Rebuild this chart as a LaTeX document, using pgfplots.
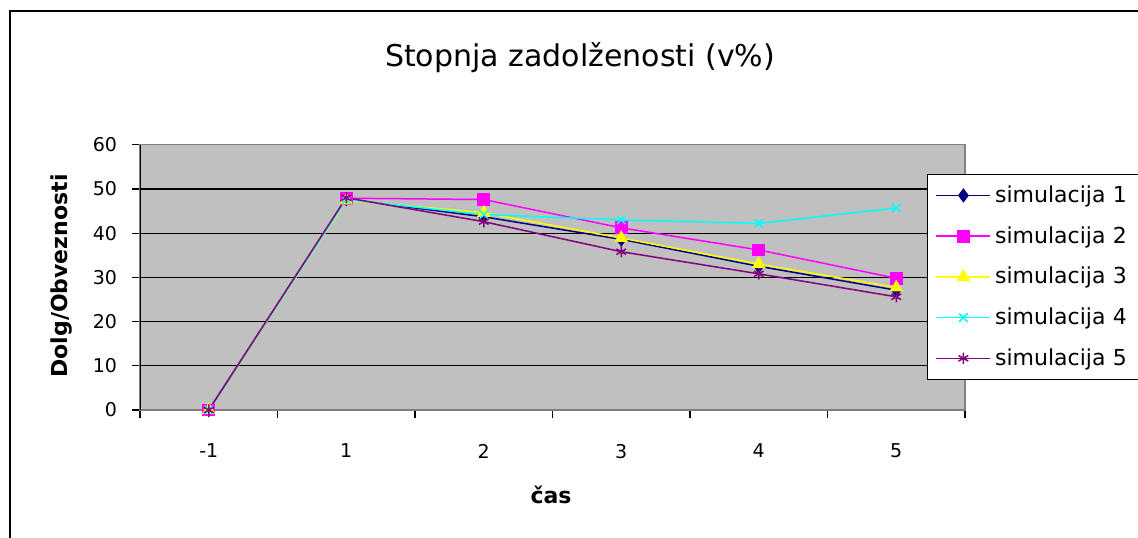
\documentclass[border=0pt]{standalone}
\usepackage{pgfplots}
\pgfplotsset{compat=1.18}
\usepackage{fontspec}
\setmainfont{DejaVu Sans}
\definecolor{bggray}{HTML}{C0C0C0}
\definecolor{snavy}{HTML}{000080}
\definecolor{smag}{HTML}{FF00FF}
\definecolor{syel}{HTML}{FFFF00}
\definecolor{scyan}{HTML}{00FFFF}
\definecolor{spurp}{HTML}{800080}
\begin{document}
\begin{tikzpicture}
\useasboundingbox (0,0) rectangle (569pt,268.5pt);
\clip (0,0) rectangle (569pt,268.5pt);
\fill[white] (0,0) rectangle (569pt,268.5pt);
\draw[line width=1pt] (5pt,-20pt) -- (5pt,263pt) -- (620pt,263pt);
\node[font=\fontsize{15}{18}\selectfont] at (290pt,239.5pt) {Stopnja zadolženosti (v\%)};
\node[font=\bfseries\fontsize{11}{13}\selectfont] at (275.5pt,21pt) {čas};
\node[font=\bfseries\fontsize{11}{13}\selectfont,rotate=90] at (31pt,130.5pt) {Dolg/Obveznosti};
\begin{axis}[
  at={(70pt,63.5pt)}, anchor=south west,
  scale only axis, width=412.5pt, height=132.65pt,
  xmin=-0.5, xmax=5.5, ymin=0, ymax=60,
  xtick={0,1,2,3,4,5}, xticklabels={-1,1,2,3,4,5},
  minor xtick={-0.5,0.5,1.5,2.5,3.5,4.5,5.5},
  ytick={0,10,20,30,40,50,60},
  tick align=outside,
  major x tick style={draw=none},
  minor tick length=4pt, major tick length=4pt,
  tick style={black, line width=0.6pt},
  xtick pos=bottom, ytick pos=left,
  ymajorgrids, grid style={black, line width=0.6pt},
  axis background/.style={fill=bggray},
  axis line style={draw=gray, line width=0.6pt},
  /pgf/number format/assume math mode=true,
  ticklabel style={font=\fontsize{9.5}{11}\selectfont},
  xticklabel style={yshift=-9.5pt},
  yticklabel style={xshift=-4pt},
  every axis plot/.append style={line width=0.75pt},
  legend style={at={(0.954,0.8896)}, anchor=north west, draw=black, line width=0.6pt,
    fill=white, font=\fontsize{11}{13}\selectfont, inner xsep=4pt, inner ysep=3.5pt,
    row sep=6.5pt, text width=90pt},
  legend cell align=left,
  legend image code/.code={\draw[mark repeat=2,mark phase=2,#1] plot coordinates {(0pt,0pt) (13.5pt,0pt) (27pt,0pt)};},
]
\addplot[color=snavy, mark=diamond*, mark size=3pt, mark options={fill=snavy}] coordinates {(0,0) (1,47.7) (2,43.7) (3,38.6) (4,32.5) (5,27.1)};
\addlegendentry{simulacija 1}
\addplot[color=smag, mark=square*, mark size=2.8pt, mark options={fill=smag}] coordinates {(0,0) (1,47.9) (2,47.6) (3,41.2) (4,36.2) (5,29.8)};
\addlegendentry{simulacija 2}
\addplot[color=syel, mark=triangle*, mark size=3.2pt, mark options={fill=syel}] coordinates {(0,0) (1,47.4) (2,44.6) (3,38.9) (4,33.0) (5,27.7)};
\addlegendentry{simulacija 3}
\addplot[color=scyan, mark=x, mark size=3pt] coordinates {(0,0) (1,47.6) (2,44.2) (3,43.0) (4,42.2) (5,45.7)};
\addlegendentry{simulacija 4}
\addplot[color=spurp, mark=asterisk, mark size=2.8pt] coordinates {(0,0) (1,48.0) (2,42.6) (3,35.8) (4,30.8) (5,25.6)};
\addlegendentry{simulacija 5}
\draw[black, line width=0.6pt] (rel axis cs:0,0) -- (rel axis cs:0,1);
\end{axis}
\end{tikzpicture}
\end{document}
